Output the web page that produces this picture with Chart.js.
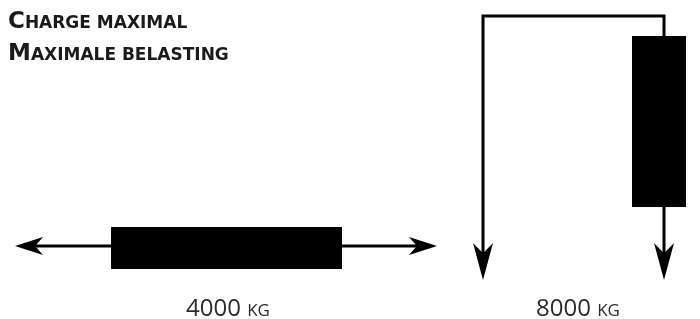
<!DOCTYPE html>
<html>
<head>
<meta charset="utf-8">
<script src="https://cdn.jsdelivr.net/npm/chart.js@4/dist/chart.umd.min.js"></script>
<style>
  html, body { margin: 0; padding: 0; background: #fff; }
  #wrap { width: 700px; height: 319px; }
</style>
</head>
<body>
<div id="wrap"><canvas id="chart-load"></canvas></div>
<script>

var titleLines = ['Charge maximal', 'Maximale belasting'];
var loadValues = [4000, 8000];
var loadUnit = 'kg';
var loadKinds = ['traction', 'suspension'];


// arrow head with a small notch at the back
function arrowHead(ctx, tipX, tipY, angle, len, half) {
    ctx.save();
    ctx.translate(tipX, tipY);
    ctx.rotate(angle);
    ctx.beginPath();
    ctx.moveTo(0, 0);
    ctx.lineTo(-len, -half);
    ctx.lineTo(-len * 0.72, 0);
    ctx.lineTo(-len, half);
    ctx.closePath();
    ctx.fill();
    ctx.restore();
}

function drawTraction(ctx, cx) {
    var y = 246;
    ctx.beginPath();
    ctx.moveTo(cx - 205, y);
    ctx.lineTo(cx + 202, y);
    ctx.stroke();
    arrowHead(ctx, cx - 213, y, Math.PI, 28, 9);
    arrowHead(ctx, cx + 209, y, 0, 28, 9);
    ctx.fillRect(cx - 117, 227, 231, 42);
}

function drawSuspension(ctx, cx) {
    var top = 16, tip = 280;
    var xl = cx - 95, xr = cx + 86;
    ctx.beginPath();
    ctx.moveTo(xl, tip - 10);
    ctx.lineTo(xl, top);
    ctx.lineTo(xr, top);
    ctx.lineTo(xr, tip - 10);
    ctx.stroke();
    arrowHead(ctx, xl, tip, Math.PI / 2, 37, 10);
    arrowHead(ctx, xr, tip, Math.PI / 2, 37, 10);
    ctx.fillRect(cx + 54, 36, 54, 171);
}

// small caps title: first letter full size, the rest upper case smaller
function drawTitle(ctx) {
    ctx.save();
    ctx.fillStyle = '#1a1a1a';
    ctx.textBaseline = 'alphabetic';
    ctx.textAlign = 'left';
    titleLines.forEach(function (line, i) {
        var x = 8, y = 28 + i * 32;
        ctx.font = 'bold 23px "DejaVu Sans"';
        ctx.fillText(line.charAt(0), x, y);
        x += ctx.measureText(line.charAt(0)).width;
        ctx.font = 'bold 17px "DejaVu Sans"';
        ctx.fillText(line.slice(1).toUpperCase(), x, y);
    });
    ctx.restore();
}

var diagramPlugin = {
    id: 'loadDiagrams',
    afterDraw: function (chart) {
        var ctx = chart.ctx;
        var x = chart.scales.x;
        drawTitle(ctx);
        ctx.save();
        ctx.strokeStyle = '#000';
        ctx.fillStyle = '#000';
        ctx.lineWidth = 3;
        ctx.lineJoin = 'miter';
        loadKinds.forEach(function (kind, i) {
            var cx = x.getPixelForValue(i);
            if (kind === 'traction') drawTraction(ctx, cx);
            else drawSuspension(ctx, cx);
        });
        ctx.restore();
    }
};


new Chart(
    document.getElementById('chart-load'),
    {
        type: 'scatter',
        data: {
            datasets: [
                {
                    data: [],
                    showLine: false
                }
            ]
        },
        options: {
            maintainAspectRatio: false,
            responsive: true,
            animation: false,
            events: [],
            layout: {
                padding: { left: 8, right: 8, top: 0, bottom: -13 }
            },
            plugins: {
                legend: { display: false },
                tooltip: { enabled: false },
                title: { display: false }
            },
            scales: {
                x: {
                    type: 'linear',
                    min: -0.6286,
                    max: 1.3257,
                    grid: { display: false },
                    border: { display: false },
                    afterBuildTicks: function (scale) {
                        scale.ticks = loadValues.map(function (v, i) { return { value: i }; });
                    },
                    ticks: {
                        padding: 8,
                        color: '#2b2b2b',
                        font: { family: 'Open Sans', weight: 'small-caps', size: 24 },
                        callback: function (value) {
                            return loadValues[value] + ' ' + loadUnit;
                        }
                    }
                },
                y: {
                    display: false,
                    min: 0,
                    max: 1
                }
            }
        },
        plugins: [diagramPlugin]
    }
);

</script>
</body>
</html>
